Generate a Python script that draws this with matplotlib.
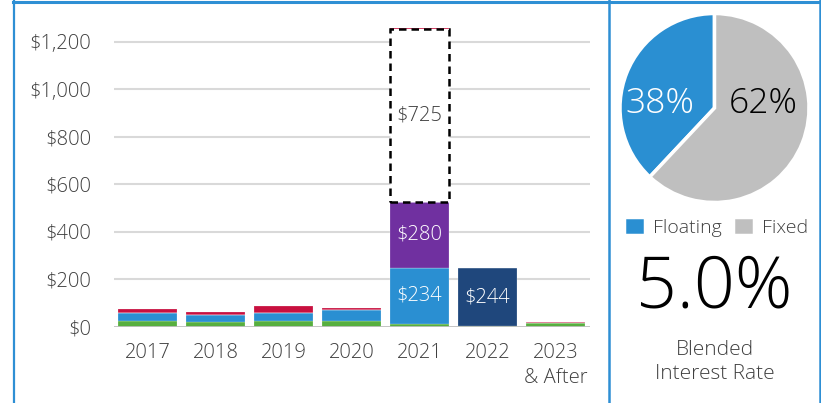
import numpy as np
import matplotlib
matplotlib.use('Agg')
import matplotlib.pyplot as plt
from matplotlib.lines import Line2D

plt.rcParams['font.family'] = ['Open Sans', 'DejaVu Sans']
plt.rcParams['font.weight'] = 300

# Debt maturities ($M)
years = ['2017', '2018', '2019', '2020', '2021', '2022', '2023\n& After']
green = [25, 21, 22, 22, 12, 2, 14]
blue = [30, 29, 36, 46, 234, 0, 0]
navy = [0, 0, 0, 0, 0, 244, 0]
purple = [0, 0, 0, 0, 280, 0, 0]
extension = [0, 0, 0, 0, 725, 0, 0]
red = [17, 11, 28, 10, 4, 0, 3]

yticks = [0, 200, 400, 600, 800, 1000, 1200]

# Floating / fixed split
mix_labels = ['Floating', 'Fixed']
mix_values = [38, 62]
blended_rate = '5.0%'

C_GREEN = '#57AF3F'
C_BLUE = '#2A8FD2'
C_NAVY = '#1F477C'
C_PURPLE = '#7030A0'
C_RED = '#C8103F'
C_GREY = '#BFBFBF'
C_TEXT = '#404040'
C_FRAME = '#2E8FD4'

W, H = 821, 403
fig = plt.figure(figsize=(W / 100, H / 100), dpi=100)

def fx(px):
    return px / W

def fy(py):
    return 1 - py / H

# bar chart
ax = fig.add_axes([fx(113.5), fy(326.5), fx(476), (326.5 - 17.75) / H])
x = np.arange(len(years))
bw = 0.87
bottom = np.zeros(len(years))
segs = [(green, C_GREEN), (blue, C_BLUE), (navy, C_NAVY), (purple, C_PURPLE)]
for vals, col in segs:
    ax.bar(x, vals, bw, bottom=bottom, color=col, edgecolor='#FFFFFF80', linewidth=0.3, zorder=3)
    bottom += np.array(vals)
ext_bottom = bottom.copy()
ax.bar(x, extension, bw, bottom=ext_bottom, facecolor='white', edgecolor=[('black' if v else 'none') for v in extension],
       linestyle=(0, (3, 2)), linewidth=1.8, zorder=3)
bottom += np.array(extension)
ax.bar(x, red, bw, bottom=bottom, color=C_RED, edgecolor='#FFFFFF80', linewidth=0.3, zorder=2)

# labels inside bars
lab_fs = 14.5
for i in range(len(years)):
    b = green[i]
    if blue[i] > 100:
        ax.text(x[i], b + blue[i] / 2, f'${blue[i]}', ha='center', va='center', color='white', fontsize=lab_fs, zorder=5)
    if navy[i] > 100:
        ax.text(x[i], b + navy[i] / 2, f'${navy[i]}', ha='center', va='center', color='white', fontsize=lab_fs, zorder=5)
    if purple[i] > 100:
        ax.text(x[i], b + blue[i] + purple[i] / 2, f'${purple[i]}', ha='center', va='center', color='white', fontsize=lab_fs, zorder=5)
    if extension[i] > 100:
        ax.text(x[i], ext_bottom[i] + extension[i] / 2, f'${extension[i]}', ha='center', va='center', color=C_TEXT, fontsize=lab_fs, zorder=5)

ax.set_xlim(-0.5, 6.5)
ax.set_ylim(0, 1300)
ax.set_yticks(yticks)
ax.set_yticklabels([f'${v:,}' for v in yticks], fontsize=14.5, color=C_TEXT)
ax.set_xticks(x)
ax.set_xticklabels(years, fontsize=14.5, color=C_TEXT, linespacing=1.3, va='top')
ax.tick_params(axis='y', length=0, pad=16)
ax.tick_params(axis='x', length=0, pad=12)
for v in yticks[1:]:
    ax.axhline(v, color='#D9D9D9', linewidth=1.5, zorder=1)
ax.axhline(0, color='#BFBFBF', linewidth=2, zorder=4)
for s in ax.spines.values():
    s.set_visible(False)

# pie
pax = fig.add_axes([fx(714.5 - 94.5), fy(108 + 94.5), fx(189), 189 / H])
wedges, _ = pax.pie(mix_values, colors=[C_BLUE, C_GREY], startangle=90, counterclock=True,
                    wedgeprops=dict(edgecolor='white', linewidth=2.5))
pax.set_xlim(-1, 1)
pax.set_ylim(-1, 1)
pax.set_aspect('equal')
pax.text(-0.58, 0.05, f'{mix_values[0]}%', ha='center', va='center', color='white', fontsize=25.5)
pax.text(0.52, 0.05, f'{mix_values[1]}%', ha='center', va='center', color='black', fontsize=25.5)

fig.legend(wedges, mix_labels, loc='center', bbox_to_anchor=(fx(716), fy(227)), ncol=2, frameon=False,
           fontsize=14, handlelength=1.1, handleheight=1.05, handletextpad=0.4, columnspacing=0.55,
           labelcolor=C_TEXT, borderpad=0)

fig.text(fx(714.5), fy(289), blended_rate, ha='center', va='center', fontsize=51.5, color='black')
fig.text(fx(714.5), fy(362), 'Blended\nInterest Rate', ha='center', va='center', fontsize=15,
         color=C_TEXT, linespacing=1.25)

# frame lines
fig.add_artist(Line2D([fx(13), fx(821)], [fy(1.5), fy(1.5)], color=C_FRAME, linewidth=2.2))
fig.add_artist(Line2D([fx(13.5), fx(13.5)], [fy(0), fy(403)], color=C_FRAME, linewidth=1.6))
fig.add_artist(Line2D([fx(609), fx(609)], [fy(0), fy(403)], color=C_FRAME, linewidth=1.8))
fig.add_artist(Line2D([fx(819.5), fx(819.5)], [fy(0), fy(403)], color=C_FRAME, linewidth=1.8))

fig.savefig('out.png', dpi=100)
